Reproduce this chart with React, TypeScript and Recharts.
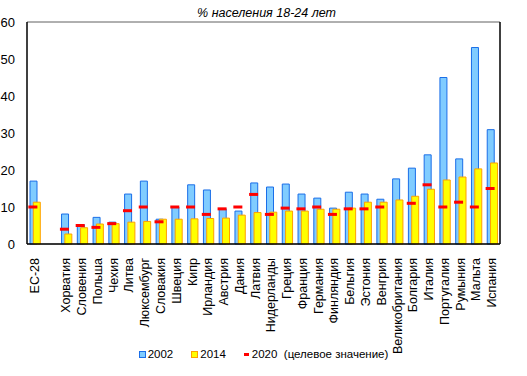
import React from 'react';
import {
  ComposedChart,
  Bar,
  Line,
  XAxis,
  YAxis,
  CartesianGrid,
  ReferenceLine,
  Legend,
} from 'recharts';

const categories = [
  'ЕС-28', '', 'Хорватия', 'Словения', 'Польша', 'Чехия', 'Литва', 'Люксембург',
  'Словакия', 'Швеция', 'Кипр', 'Ирландия', 'Австрия', 'Дания', 'Латвия',
  'Нидерланды', 'Греция', 'Франция', 'Германия', 'Финляндия', 'Бельгия',
  'Эстония', 'Венгрия', 'Великобритания', 'Болгария', 'Италия', 'Португалия',
  'Румыния', 'Мальта', 'Испания',
];

const values2002 = [
  17.0, null, 8.1, 5.2, 7.2, 5.9, 13.5, 17.0, 6.7, 10.0, 16.0, 14.6, 9.5, 8.9, 16.5,
  15.4, 16.2, 13.5, 12.4, 9.7, 14.0, 13.5, 12.1, 17.6, 20.5, 24.1, 45.0, 23.0, 53.1, 30.9,
];

const values2014 = [
  11.3, null, 2.7, 4.4, 5.4, 5.5, 5.9, 6.1, 6.7, 6.7, 6.8, 6.9, 7.0, 7.8, 8.5,
  8.6, 8.9, 8.9, 9.4, 9.4, 9.7, 11.3, 11.3, 11.9, 12.9, 14.8, 17.3, 18.1, 20.3, 21.9,
];

const target2020 = [
  10, null, 4, 5, 4.5, 5.5, 9, 10, 6, 10, 10, 8, 9.5, 10, 13.4,
  8, 9.7, 9.5, 10, 8, 9.5, 9.5, 10, null, 11, 16, 10, 11.3, 10, 15,
];

const yTicks = [0, 10, 20, 30, 40, 50, 60];

const data = categories.map((name, i) => ({
  name,
  v2002: values2002[i],
  v2014: values2014[i],
  t2020: target2020[i],
}));

const FONT = '"Liberation Sans", Arial, sans-serif';

const RotatedTick = ({ x, y, payload }: any) => (
  <text
    transform={`translate(${x + 4},${y + 6}) rotate(-90)`}
    textAnchor="end"
    fontSize={12.5}
    fontFamily={FONT}
    fill="#000"
  >
    {payload.value}
  </text>
);

const TargetDash = ({ cx, cy, payload }: any) => {
  if (payload.t2020 == null || cy == null) return null;
  return <rect x={cx - 6.5} y={cy - 1.5} width={9} height={3} fill="#ff0000" />;
};

const swatch = (bg: string, border: string): React.CSSProperties => ({
  display: 'inline-block',
  flex: 'none',
  boxSizing: 'border-box',
  width: 7,
  height: 7,
  background: bg,
  border: `1px solid ${border}`,
  marginRight: 2,
});

const LegendBox = () => (
  <div
    style={{
      display: 'flex',
      justifyContent: 'center',
      alignItems: 'center',
      fontFamily: FONT,
      fontSize: 11.5,
      lineHeight: '14px',
      height: 20,
    }}
  >
    <span style={swatch('#80ccff', '#1a6ee8')} />
    <span style={{ marginRight: 18 }}>2002</span>
    <span style={swatch('#ffff00', '#ffa000')} />
    <span style={{ marginRight: 18 }}>2014</span>
    <span style={{ display: 'inline-block', flex: 'none', width: 5, height: 3, background: '#ff0000', marginRight: 3 }} />
    <span>2020 &nbsp;(целевое значение)</span>
  </div>
);

export default function App() {
  return (
    <div style={{ position: 'absolute', left: 0, top: 0, width: 527, height: 376, background: '#fff' }}>
      <div
        style={{
          position: 'absolute',
          left: 0,
          width: 533,
          top: 6,
          textAlign: 'center',
          fontFamily: FONT,
          fontStyle: 'italic',
          fontSize: 12.5,
          zIndex: 2,
        }}
      >
        % населения 18-24 лет
      </div>
      <ComposedChart
        width={527}
        height={376}
        data={data}
        margin={{ top: 22, right: 0, left: 0, bottom: 12 }}
        barGap={-3.7}
        barCategoryGap={2}
      >
        <CartesianGrid vertical={false} stroke="#c0c0c0" />
        <XAxis
          dataKey="name"
          interval={0}
          tick={<RotatedTick />}
          tickLine={false}
          axisLine={{ stroke: '#000', strokeWidth: 1.5 }}
          height={100}
        />
        <YAxis
          yAxisId="left"
          orientation="left"
          domain={[0, 60]}
          ticks={yTicks}
          width={27}
          tickLine={false}
          tickSize={0}
          tickMargin={12}
          axisLine={{ stroke: '#000', strokeWidth: 1.5 }}
          tick={{ fontSize: 13, fontFamily: FONT, fill: '#000' }}
        />
        <YAxis
          yAxisId="right"
          orientation="right"
          domain={[0, 60]}
          ticks={yTicks}
          width={27}
          tickLine={false}
          tickSize={0}
          tickMargin={9}
          axisLine={{ stroke: '#000', strokeWidth: 1.5 }}
          tick={{ fontSize: 13, fontFamily: FONT, fill: '#000', textAnchor: 'start' }}
        />
        <ReferenceLine yAxisId="left" y={60} stroke="#808080" />
        <Legend verticalAlign="bottom" content={<LegendBox />} />
        <Bar yAxisId="left" dataKey="v2002" barSize={7} fill="#80ccff" stroke="#1a6ee8" strokeWidth={1} isAnimationActive={false} />
        <Bar yAxisId="left" dataKey="v2014" barSize={7} fill="#ffff00" stroke="#ffa000" strokeWidth={1} isAnimationActive={false} />
        <Line
          yAxisId="left"
          dataKey="t2020"
          stroke="none"
          dot={<TargetDash />}
          activeDot={false}
          legendType="none"
          isAnimationActive={false}
        />
      </ComposedChart>
    </div>
  );
}
